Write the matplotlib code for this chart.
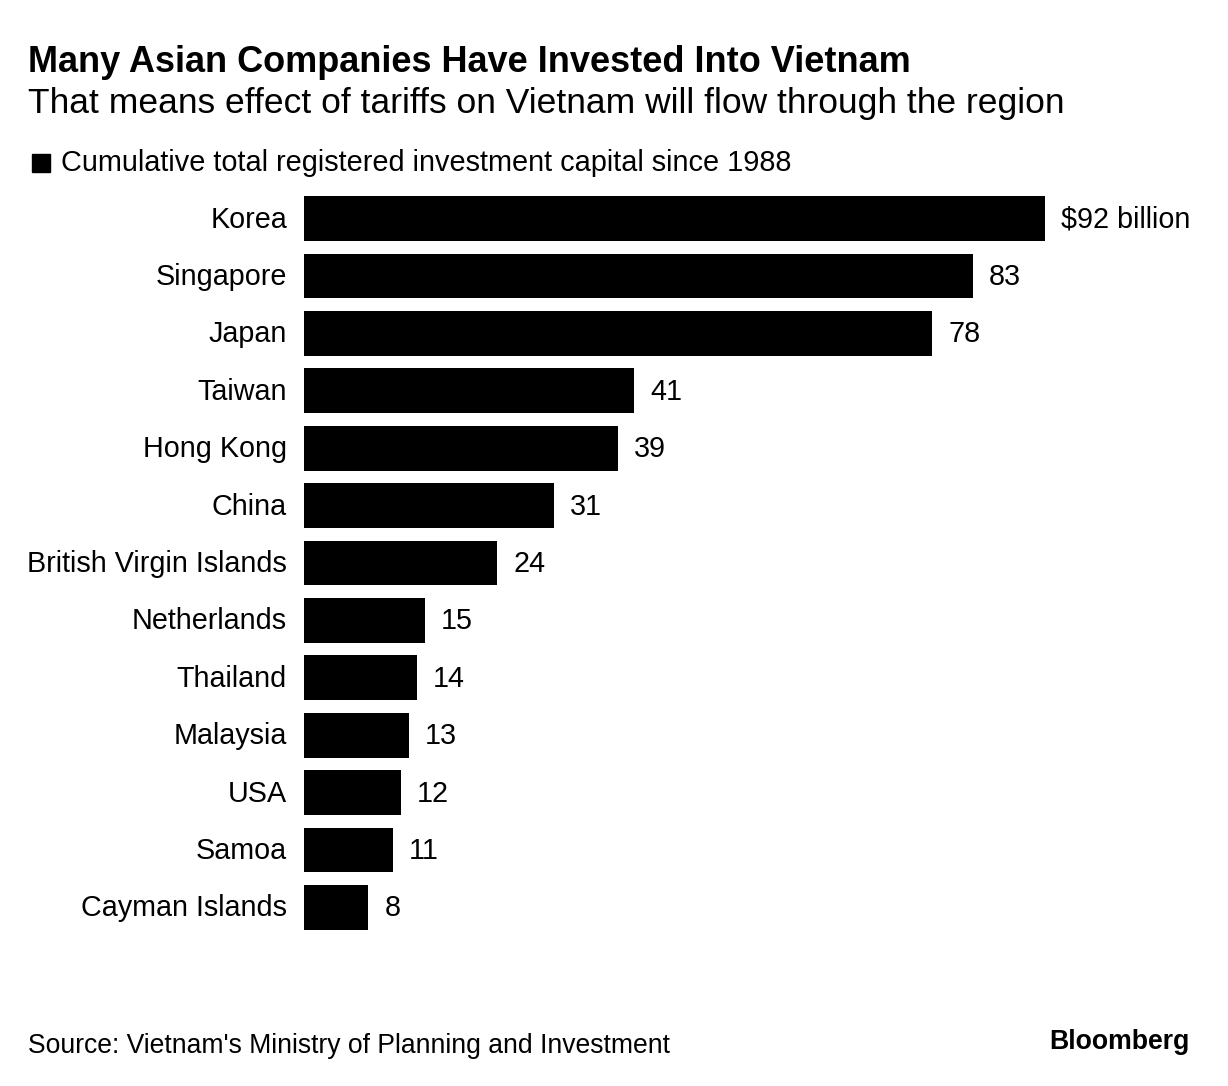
import matplotlib
matplotlib.use("Agg")
import matplotlib.pyplot as plt
from matplotlib.patches import Rectangle

countries = ["Korea", "Singapore", "Japan", "Taiwan", "Hong Kong", "China",
             "British Virgin Islands", "Netherlands", "Thailand", "Malaysia",
             "USA", "Samoa", "Cayman Islands"]
values = [92, 83, 78, 41, 39, 31, 24, 15, 14, 13, 12, 11, 8]
value_labels = ["$92 billion", "83", "78", "41", "39", "31", "24", "15", "14",
                "13", "12", "11", "8"]

W, H = 1228, 1086
fig = plt.figure(figsize=(W / 100, H / 100), dpi=100)
plt.rcParams['font.family'] = ['Liberation Sans', 'DejaVu Sans']

ax_left, ax_right = 304, 1200
ax_top, ax_bot = 189.8, 936.2
ax = fig.add_axes([ax_left / W, 1 - ax_bot / H, (ax_right - ax_left) / W, (ax_bot - ax_top) / H])
scale = (1045 - 304) / 92.0
xmax = (ax_right - ax_left) / scale
ys = list(range(len(countries)))
ax.barh(ys, values, height=0.78, color="black")
ax.set_xlim(0, xmax)
ax.set_ylim(len(countries) - 0.5, -0.5)
ax.axis("off")

for y, v, lab, c in zip(ys, values, value_labels, countries):
    ax.annotate(lab, xy=(v, y), xytext=(16, -1), textcoords="offset pixels",
                ha="left", va="center", fontsize=20.7, color="black")
    ax.annotate(c, xy=(0, y), xytext=(-17, -1), textcoords="offset pixels",
                ha="right", va="center", fontsize=20.7, color="black")

fig.text(28 / W, 1 - 62 / H, "Many Asian Companies Have Invested Into Vietnam",
         fontsize=26, fontweight="bold", ha="left", va="center")
fig.text(28 / W, 1 - 104 / H, "That means effect of tariffs on Vietnam will flow through the region",
         fontsize=25.5, ha="left", va="center")
fig.add_artist(Rectangle((32 / W, 1 - 172 / H), 18 / W, 18 / H, transform=fig.transFigure,
                         color="black"))
fig.text(61 / W, 1 - 163 / H, "Cumulative total registered investment capital since 1988",
         fontsize=20.8, ha="left", va="center")
fig.text(28 / W, 1 - 1046 / H, "Source: Vietnam's Ministry of Planning and Investment",
         fontsize=19.1, ha="left", va="center")
fig.text(1190 / W, 1 - 1042 / H, "Bloomberg", fontsize=19.2, fontweight="bold",
         ha="right", va="center")

fig.savefig("out.png", dpi=100, facecolor="white")
